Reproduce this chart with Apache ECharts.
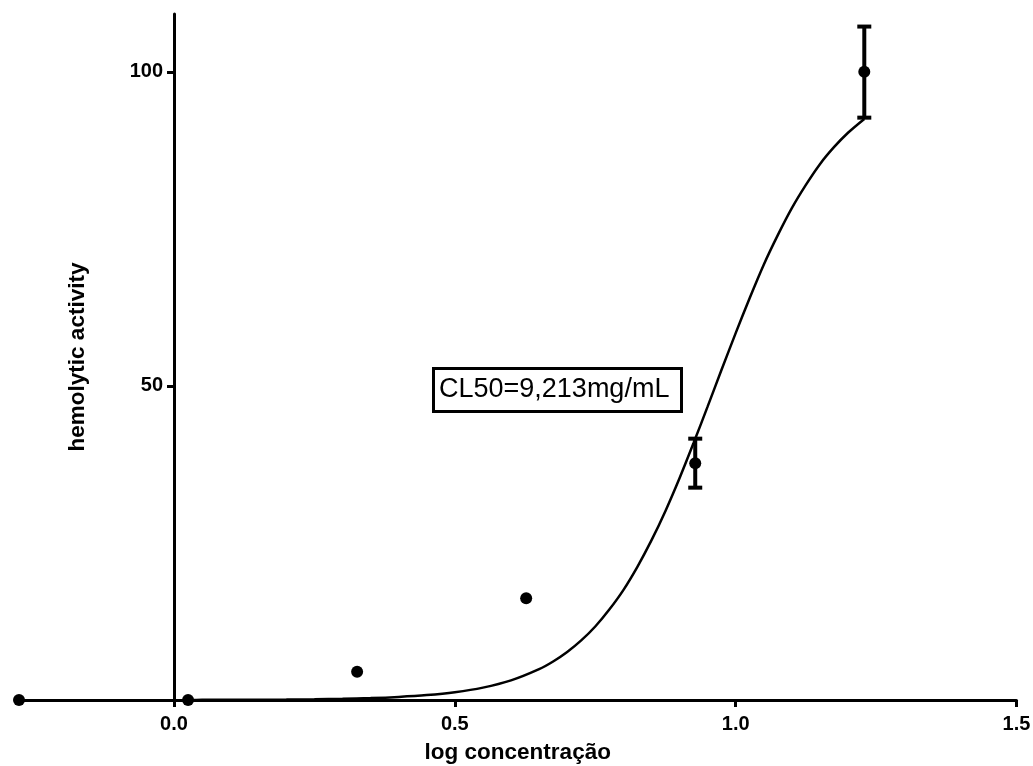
<!DOCTYPE html>
<html>
<head>
<meta charset="utf-8">
<script src="https://cdn.jsdelivr.net/npm/echarts@6/dist/echarts.min.js"></script>
<style>html,body{margin:0;padding:0;background:#fff;}#c{width:1033px;height:766px;}</style>
</head>
<body>
<div id="c"></div>
<script>
// Measured points (log concentration, hemolytic activity)
const pointX = [-0.276, 0.025, 0.326, 0.627, 0.928, 1.229];
const pointY = [0, 0, 4.5, 16.2, 37.7, 100];
// Error bars (low, high) where visible
const errX = [0.928, 1.229];
const errLow = [33.8, 92.7];
const errHigh = [41.6, 107.2];
// Fitted curve
const curveX = [0.025, 0.05, 0.10, 0.15, 0.20, 0.25, 0.30, 0.35, 0.40, 0.45, 0.50, 0.55, 0.60, 0.65, 0.675, 0.70, 0.725, 0.75, 0.775, 0.80, 0.825, 0.85, 0.875, 0.90, 0.925, 0.95, 0.975, 1.00, 1.025, 1.05, 1.075, 1.10, 1.125, 1.15, 1.175, 1.20, 1.229];
const curveY = [0.01, 0.02, 0.03, 0.05, 0.07, 0.12, 0.19, 0.30, 0.49, 0.78, 1.24, 1.97, 3.12, 4.91, 6.13, 7.64, 9.48, 11.7, 14.4, 17.5, 21.2, 25.4, 30.1, 35.3, 40.9, 46.7, 52.6, 58.4, 64.0, 69.3, 74.0, 78.3, 82.0, 85.3, 88.0, 90.3, 92.5];
// Axis ticks
const xTicks = [0, 0.5, 1.0, 1.5];
const xTickLabels = ['0.0', '0.5', '1.0', '1.5'];
const yTicks = [50, 100];
const xTitle = 'log concentração';
const yTitle = 'hemolytic activity';
const annotation = 'CL50=9,213mg/mL';

const FONT = '"Liberation Sans", Arial, sans-serif';
const chart = echarts.init(document.getElementById('c'), null, {renderer: 'canvas'});

const points = pointX.map((x, i) => [x, pointY[i]]);
const curve = curveX.map((x, i) => [x, curveY[i]]);
const errs = errX.map((x, i) => [x, errLow[i], errHigh[i]]);

const X_MIN = -0.276, X_MAX = 1.5;
const GRID_LEFT = 19, GRID_RIGHT = 16.5;
const plotW = 1033 - GRID_LEFT - GRID_RIGHT;
// shift y axis so it sits at x = 0
const yOffset = -plotW * (0 - X_MIN) / (X_MAX - X_MIN);

chart.setOption({
  backgroundColor: '#fff',
  animation: false,
  grid: {left: GRID_LEFT, right: GRID_RIGHT, top: 14, bottom: 66, containLabel: false, outerBoundsMode: 'none'},
  xAxis: {
    type: 'value', min: X_MIN, max: X_MAX,
    splitLine: {show: false},
    axisLine: {onZero: false, lineStyle: {color: '#000', width: 3}},
    axisTick: {show: true, length: 7, lineStyle: {color: '#000', width: 3}, customValues: xTicks},
    axisLabel: {
      customValues: xTicks, margin: 14, color: '#000', fontSize: 20, fontWeight: 'bold', fontFamily: FONT,
      formatter: v => xTickLabels[xTicks.indexOf(v)] ?? v.toFixed(1)
    },
    name: xTitle, nameLocation: 'middle', nameGap: 41,
    nameTextStyle: {color: '#000', fontSize: 22.5, fontWeight: 'bold', fontFamily: FONT}
  },
  yAxis: {
    type: 'value', min: 0, max: 109.2, offset: yOffset,
    splitLine: {show: false},
    axisLine: {onZero: false, lineStyle: {color: '#000', width: 3}},
    axisTick: {show: true, length: 7, lineStyle: {color: '#000', width: 3}, customValues: yTicks},
    axisLabel: {customValues: yTicks, margin: 11, color: '#000', fontSize: 20, fontWeight: 'bold', fontFamily: FONT},
    name: yTitle, nameLocation: 'middle', nameGap: 85,
    nameTextStyle: {color: '#000', fontSize: 22.5, fontWeight: 'bold', fontFamily: FONT}
  },
  series: [
    {
      type: 'line', data: curve, showSymbol: false, smooth: 0.3,
      lineStyle: {color: '#000', width: 2.5}, z: 3
    },
    {
      type: 'custom', data: errs, z: 4,
      encode: {x: 0, y: [1, 2]},
      renderItem: function (params, api) {
        const x = api.value(0);
        const lo = api.coord([x, api.value(1)]);
        const hi = api.coord([x, api.value(2)]);
        const hw = 7;
        const st = {stroke: '#000', lineWidth: 4};
        return {
          type: 'group',
          children: [
            {type: 'line', shape: {x1: lo[0], y1: lo[1], x2: hi[0], y2: hi[1]}, style: st},
            {type: 'line', shape: {x1: lo[0] - hw, y1: lo[1], x2: lo[0] + hw, y2: lo[1]}, style: st},
            {type: 'line', shape: {x1: hi[0] - hw, y1: hi[1], x2: hi[0] + hw, y2: hi[1]}, style: st}
          ]
        };
      }
    },
    {
      type: 'scatter', data: points, symbol: 'circle', symbolSize: 12,
      itemStyle: {color: '#000', opacity: 1}, z: 5, clip: false
    }
  ],
  graphic: [
    {
      type: 'rect', left: 432, top: 367,
      shape: {width: 248, height: 43},
      style: {fill: '#fff', stroke: '#000', lineWidth: 3}, z: 10
    },
    {
      type: 'text', left: 439, top: 376,
      style: {text: annotation, fill: '#000', font: '27px "Liberation Sans", Arial, sans-serif'}, z: 11
    }
  ]
});
</script>
</body>
</html>
